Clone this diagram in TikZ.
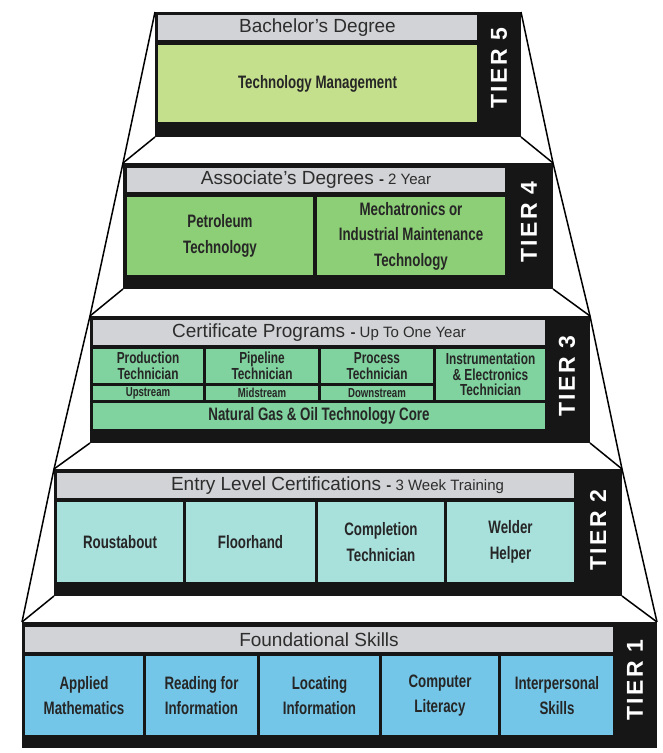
\documentclass[tikz,border=0pt]{standalone}
\usepackage{fontspec}
\setmainfont{Liberation Sans}
\newfontfamily\cellfont[FakeStretch=0.74]{Liberation Sans}
\newfontfamily\tierfont[LetterSpace=10]{Liberation Sans}
\usetikzlibrary{positioning}

\definecolor{tierblack}{RGB}{22,22,22}
\definecolor{hdrgray}{RGB}{210,211,214}
\definecolor{hdrtext}{RGB}{45,45,45}
\definecolor{celltext}{RGB}{38,38,38}
\definecolor{fivegreen}{RGB}{196,224,140}
\definecolor{fourgreen}{RGB}{141,207,118}
\definecolor{threegreen}{RGB}{128,210,158}
\definecolor{twoteal}{RGB}{168,224,220}
\definecolor{oneblue}{RGB}{116,198,232}

\newcommand{\subhdr}[1]{{\fontsize{15}{15}\selectfont\textbf{-} #1}}

\begin{document}
\begin{tikzpicture}[x=1pt, y=-1pt,
    tier/.style={fill=tierblack, inner sep=0pt, outer sep=0pt, anchor=north west},
    hdr/.style={fill=hdrgray, text=hdrtext, inner sep=0pt, outer sep=0pt, anchor=north west, font=\fontsize{19}{21}\selectfont},
    cell/.style={fill=#1, text=celltext, inner sep=0pt, outer sep=0pt, anchor=north west, align=center, font=\cellfont\bfseries\fontsize{18}{25.5}\selectfont},
    cellsm/.style={font=\cellfont\bfseries\fontsize{16}{15.5}\selectfont},
    cellxs/.style={font=\cellfont\bfseries\fontsize{13}{12}\selectfont},
    tierlbl/.style={rotate=90, text=white, inner sep=0pt, font=\tierfont\bfseries\fontsize{23}{23}\selectfont},
    rim/.style={draw=black, line width=1.5pt, line join=round}]

    \useasboundingbox (0,0) rectangle (662,753);

    % tier 5
    \node[tier, minimum width=366pt, minimum height=125pt] (t5) at (155,12) {};
    \node[hdr, minimum width=319pt, minimum height=25pt] (h5) at (158,15) {Bachelor’s Degree};
    \node[cell=fivegreen, minimum width=319pt, minimum height=77pt] (tm) at (158,45) {Technology Management};
    \node[tierlbl] (l5) at (499,68) {TIER 5};

    % tier 4
    \node[tier, minimum width=430pt, minimum height=126pt] (t4) at (123,163) {};
    \node[hdr, minimum width=378pt, minimum height=24pt] (h4) at (127,168) {Associate’s Degrees \subhdr{2 Year}};
    \node[cell=fourgreen, minimum width=186pt, minimum height=78pt] (pt) at (127,197) {Petroleum\\Technology};
    \node[cell=fourgreen, minimum width=188pt, minimum height=78pt] (mt) at (317,197) {Mechatronics or\\Industrial Maintenance\\Technology};
    \node[tierlbl] (l4) at (529,222) {TIER 4};

    % tier 3
    \node[tier, minimum width=500pt, minimum height=127pt] (t3) at (90,316) {};
    \node[hdr, minimum width=452pt, minimum height=25pt] (h3) at (93,320) {Certificate Programs \subhdr{Up To One Year}};
    \node[cell=threegreen, cellsm, minimum width=110pt, minimum height=34pt] (pr) at (93,349) {Production\\Technician};
    \node[cell=threegreen, cellsm, minimum width=112pt, minimum height=34pt] (pl) at (206,349) {Pipeline\\Technician};
    \node[cell=threegreen, cellsm, minimum width=112pt, minimum height=34pt] (pc) at (321,349) {Process\\Technician};
    \node[cell=threegreen, cellxs, minimum width=110pt, minimum height=14pt] (up) at (93,386) {Upstream};
    \node[cell=threegreen, cellxs, minimum width=112pt, minimum height=14pt] (mid) at (206,386) {Midstream};
    \node[cell=threegreen, cellxs, minimum width=112pt, minimum height=14pt] (down) at (321,386) {Downstream};
    \node[cell=threegreen, cellsm, minimum width=109pt, minimum height=51pt] (ie) at (436,349) {Instrumentation\\\& Electronics\\Technician};
    \node[cell=threegreen, minimum width=452pt, minimum height=26pt] (core) at (93,403) {Natural Gas \& Oil Technology Core};
    \node[tierlbl] (l3) at (567,376) {TIER 3};

    % tier 2
    \node[tier, minimum width=568pt, minimum height=127pt] (t2) at (54,469) {};
    \node[hdr, minimum width=517pt, minimum height=25pt] (h2) at (57,473) {\hspace*{44pt}Entry Level Certifications \subhdr{3 Week Training}};
    \node[cell=twoteal, minimum width=126pt, minimum height=80pt] (rb) at (57,502) {Roustabout};
    \node[cell=twoteal, minimum width=129pt, minimum height=80pt] (fh) at (186,502) {Floorhand};
    \node[cell=twoteal, minimum width=126pt, minimum height=80pt] (ct) at (318,502) {Completion\\Technician};
    \node[cell=twoteal, minimum width=127pt, minimum height=80pt] (wh) at (447,502) {Welder\\Helper};
    \node[tierlbl] (l2) at (598,530) {TIER 2};

    % tier 1
    \node[tier, minimum width=635pt, minimum height=126pt] (t1) at (22,622) {};
    \node[hdr, minimum width=588pt, minimum height=25pt] (h1) at (25,627) {Foundational Skills};
    \node[cell=oneblue, minimum width=118pt, minimum height=79pt] (am) at (25,656) {Applied\\Mathematics};
    \node[cell=oneblue, minimum width=111pt, minimum height=79pt] (rf) at (146,656) {Reading for\\Information};
    \node[cell=oneblue, minimum width=119pt, minimum height=79pt] (li) at (260,656) {Locating\\Information};
    \node[cell=oneblue, minimum width=116pt, minimum height=79pt] (cl) at (382,656) {Computer\\Literacy};
    \node[cell=oneblue, minimum width=112pt, minimum height=79pt] (is) at (501,656) {Interpersonal\\Skills};
    \node[tierlbl] (l1) at (635,680) {TIER 1};

    % pyramid sides and shelves
    \draw[rim] (t5.north west) -- (t4.north west) -- (t3.north west) -- (t2.north west) -- (t1.north west);
    \draw[rim] (t5.north east) -- (t4.north east) -- (t3.north east) -- (t2.north east) -- (t1.north east);
    \draw[rim] (t5.south west) -- (t4.north west);
    \draw[rim] (t5.south east) -- (t4.north east);
    \draw[rim] (t4.south west) -- (t3.north west);
    \draw[rim] (t4.south east) -- (t3.north east);
    \draw[rim] (t3.south west) -- (t2.north west);
    \draw[rim] (t3.south east) -- (t2.north east);
    \draw[rim] (t2.south west) -- (t1.north west);
    \draw[rim] (t2.south east) -- (t1.north east);

\end{tikzpicture}
\end{document}
